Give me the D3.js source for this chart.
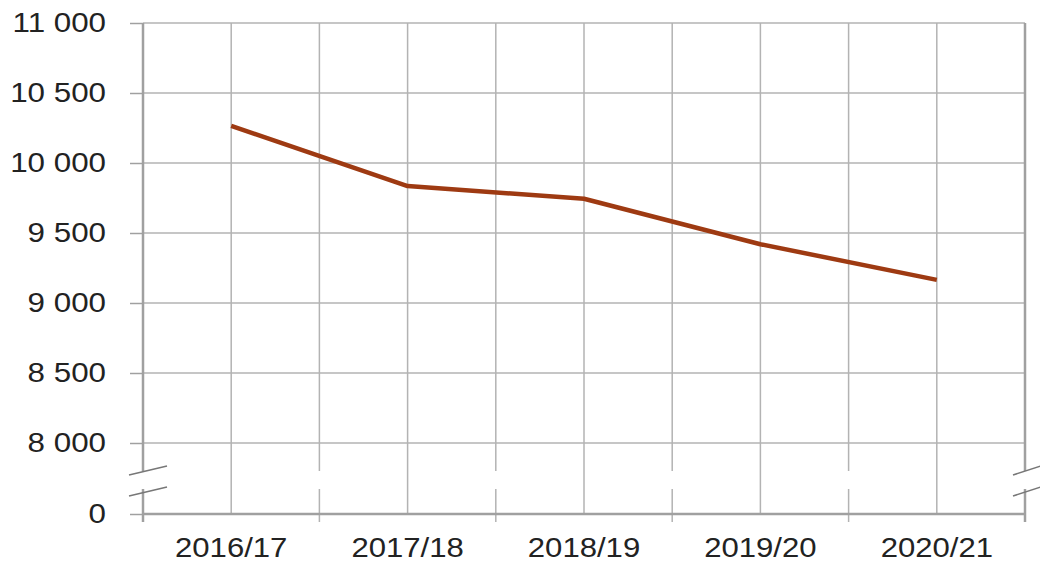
<!DOCTYPE html>
<html>
<head>
<meta charset="utf-8">
<script src="https://cdn.jsdelivr.net/npm/d3@7"></script>
<style>
  body { margin: 0; background: #fff; }
  text { font-family: "Liberation Sans", Arial, sans-serif; fill: #222; }
</style>
</head>
<body>
<div id="vis"></div>
<script>
// data
const years = ['2016/17', '2017/18', '2018/19', '2019/20', '2020/21']
const values = [10265, 9835, 9745, 9420, 9165]
const yTicks = [0, 8000, 8500, 9000, 9500, 10000, 10500, 11000]

const width = 1040, height = 561
const plot = {left: 143, right: 1025, top: 23, bottom: 514}

const svg = d3.select('#vis').append('svg')
    .attr('width', width)
    .attr('height', height)

// x: bands, year label in the middle
const x = d3.scaleBand(years, [plot.left, plot.right]).padding(0)
const xMid = d => x(d) + x.bandwidth() / 2
const bounds = years.map(d => x(d)).concat([plot.right])

// y: broken axis, 0 sits one step below 8000
const y = d3.scaleLinear([0, 8000, 11000], [plot.bottom, 443, plot.top])

const fmt = d3.formatLocale({decimal: ',', thousands: ' ', grouping: [3], currency: ['', '']}).format(',')

const gapTop = 471, gapBottom = 489

// stretch text a bit wider (the source picture is stretched)
function widen(sel, k) {
    sel.each(function() {
        const w = this.getComputedTextLength()
        d3.select(this).attr('textLength', w * k).attr('lengthAdjust', 'spacingAndGlyphs')
    })
}

// horizontal grid lines
svg.append('g').selectAll('line')
    .data(yTicks.filter(v => v > 0))
    .enter().append('line')
        .attr('x1', plot.left).attr('x2', plot.right)
        .attr('y1', d => y(d)).attr('y2', d => y(d))
        .attr('stroke', '#b3b3b3')
        .attr('stroke-width', 1.5)

// vertical grid lines at the middle of each year (continuous)
svg.append('g').selectAll('line')
    .data(years)
    .enter().append('line')
        .attr('x1', xMid).attr('x2', xMid)
        .attr('y1', plot.top).attr('y2', plot.bottom)
        .attr('stroke', '#b3b3b3')
        .attr('stroke-width', 1.5)

// vertical lines at band edges, broken at the axis break
const edges = svg.append('g')
bounds.forEach((bx, i) => {
    const edge = i === 0 || i === bounds.length - 1
    const col = edge ? '#a0a0a0' : '#b3b3b3'
    const sw = edge ? 2.5 : 1.5
    edges.append('line')
        .attr('x1', bx).attr('x2', bx)
        .attr('y1', plot.top).attr('y2', gapTop)
        .attr('stroke', col).attr('stroke-width', sw)
    edges.append('line')
        .attr('x1', bx).attr('x2', bx)
        .attr('y1', gapBottom).attr('y2', plot.bottom + 8)
        .attr('stroke', col).attr('stroke-width', sw)
})

// zero line
svg.append('line')
    .attr('x1', plot.left).attr('x2', plot.right)
    .attr('y1', y(0)).attr('y2', y(0))
    .attr('stroke', '#a0a0a0')
    .attr('stroke-width', 2.5)

// y axis labels + small ticks
let yAxis = d3.axisLeft(y)
    .tickValues(yTicks)
    .tickFormat(fmt)
    .tickSize(13)
    .tickPadding(24)

svg.append('g')
    .attr('transform', `translate(${plot.left},0)`)
    .call(yAxis)
    .call(g => g.select('.domain').remove())
    .call(g => g.selectAll('.tick line').attr('stroke', '#a0a0a0').attr('stroke-width', 1.5))
    .call(g => g.selectAll('.tick text')
        .attr('font-size', '27px')
        .attr('font-family', '"Liberation Sans", Arial, sans-serif')
        .attr('fill', '#222')
        .call(widen, 1.16))

// x labels
let xAxis = d3.axisBottom(x).tickSize(0).tickPadding(23)
svg.append('g')
    .attr('transform', `translate(0,${plot.bottom})`)
    .call(xAxis)
    .call(g => g.select('.domain').remove())
    .call(g => g.selectAll('.tick text')
        .attr('font-size', '28px')
        .attr('font-family', '"Liberation Sans", Arial, sans-serif')
        .attr('fill', '#222')
        .call(widen, 1.11))

// break marks on both sides
const brk = svg.append('g').attr('stroke', '#777').attr('stroke-width', 1.5)
;[plot.left, plot.right].forEach(bx => {
    const x0 = bx === plot.left ? bx - 14 : bx - 12
    const x1 = bx === plot.left ? bx + 24 : bx + 16
    ;[475, 496].forEach(yy => {
        brk.append('line')
            .attr('x1', x0).attr('y1', yy)
            .attr('x2', x1).attr('y2', yy - 9)
    })
})

// the line
const line = d3.line()
    .x((d, i) => xMid(years[i]))
    .y(d => y(d))

svg.append('path')
    .datum(values)
    .attr('d', line)
    .attr('fill', 'none')
    .attr('stroke', '#9e3a12')
    .attr('stroke-width', 4.5)
    .attr('stroke-linejoin', 'round')
</script>
</body>
</html>
